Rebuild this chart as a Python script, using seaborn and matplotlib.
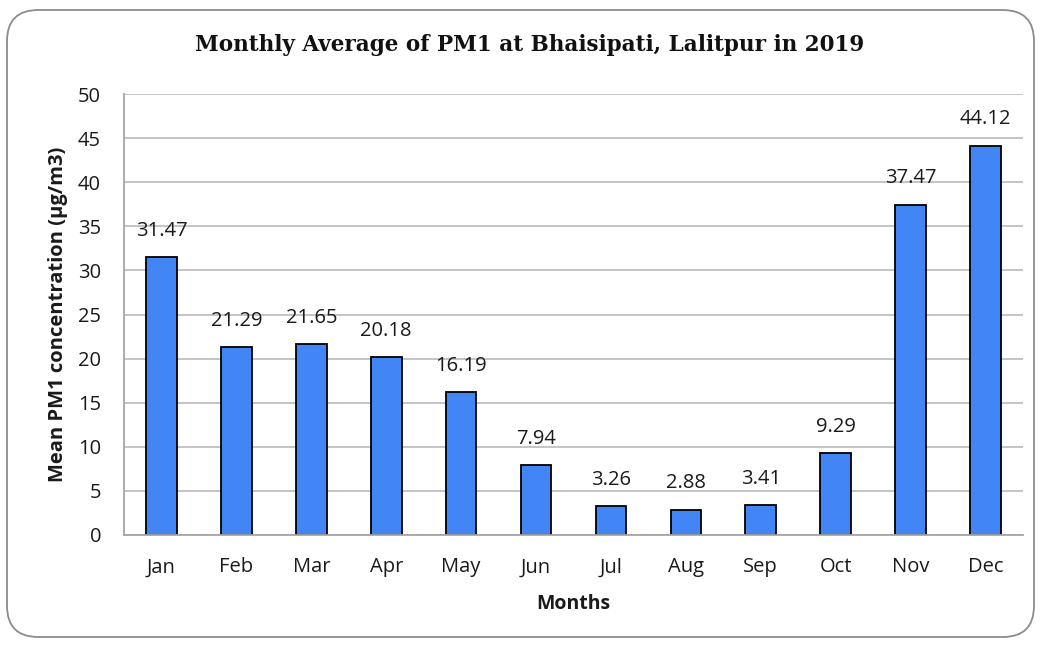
import matplotlib
matplotlib.use("Agg")
import matplotlib.pyplot as plt
from matplotlib.patches import FancyBboxPatch
import seaborn as sns
import pandas as pd

months = ["Jan", "Feb", "Mar", "Apr", "May", "Jun", "Jul", "Aug", "Sep", "Oct", "Nov", "Dec"]
pm1 = [31.47, 21.29, 21.65, 20.18, 16.19, 7.94, 3.26, 2.88, 3.41, 9.29, 37.47, 44.12]
yticks = [0, 5, 10, 15, 20, 25, 30, 35, 40, 45, 50]

sns.set_theme(style="white")
plt.rcParams["font.family"] = ["Open Sans", "DejaVu Sans"]

df = pd.DataFrame({"Month": months, "PM1": pm1})

fig = plt.figure(figsize=(10.41, 6.45), dpi=100)
ax = fig.add_axes([124 / 1041, 1 - 535 / 645, 899 / 1041, 441 / 645])

# rounded outer frame
frame = FancyBboxPatch((7 / 1041, 8 / 645), 1027 / 1041, 627 / 645,
                       boxstyle="round,pad=0,rounding_size=0.03",
                       transform=fig.transFigure, facecolor="none",
                       edgecolor="#8c8c8c", linewidth=1.3, mutation_aspect=1041 / 645)
fig.patches.append(frame)

sns.barplot(data=df, x="Month", y="PM1", ax=ax, color="#4285f4",
            edgecolor="black", linewidth=1.3, width=0.41, saturation=1)

for i, v in enumerate(pm1):
    ax.annotate(f"{v:.2f}", xy=(i, v), xytext=(0, 19), textcoords="offset points",
                ha="center", va="center", fontsize=14.5, color="#1a1a1a")

ax.set_ylim(0, 50)
ax.set_xlim(-0.5, len(months) - 0.5)
ax.set_yticks(yticks)
ax.yaxis.grid(True, color="#bfbfbf", linewidth=1.3)
ax.set_axisbelow(True)
for s in ["top", "right"]:
    ax.spines[s].set_visible(False)
for s in ["left", "bottom"]:
    ax.spines[s].set_color("#a6a6a6")
    ax.spines[s].set_linewidth(1.3)
ax.tick_params(axis="both", labelsize=14.5, colors="#1a1a1a", length=0)
ax.tick_params(axis="y", pad=16.5)
ax.tick_params(axis="x", pad=16)

ax.set_xlabel("Months", fontsize=14, fontweight="bold", labelpad=12, color="#1a1a1a")
ax.set_ylabel("Mean PM1 concentration (µg/m3)", fontsize=14.5, fontweight="bold",
              labelpad=7, color="#1a1a1a")

fig.text(530 / 1041, 1 - 45 / 645, "Monthly Average of PM1 at Bhaisipati, Lalitpur in 2019",
         ha="center", va="center", fontsize=15.5, fontweight="bold",
         family=["DejaVu Serif"], color="#111111")

fig.savefig("out.png", dpi=100, facecolor="white")
